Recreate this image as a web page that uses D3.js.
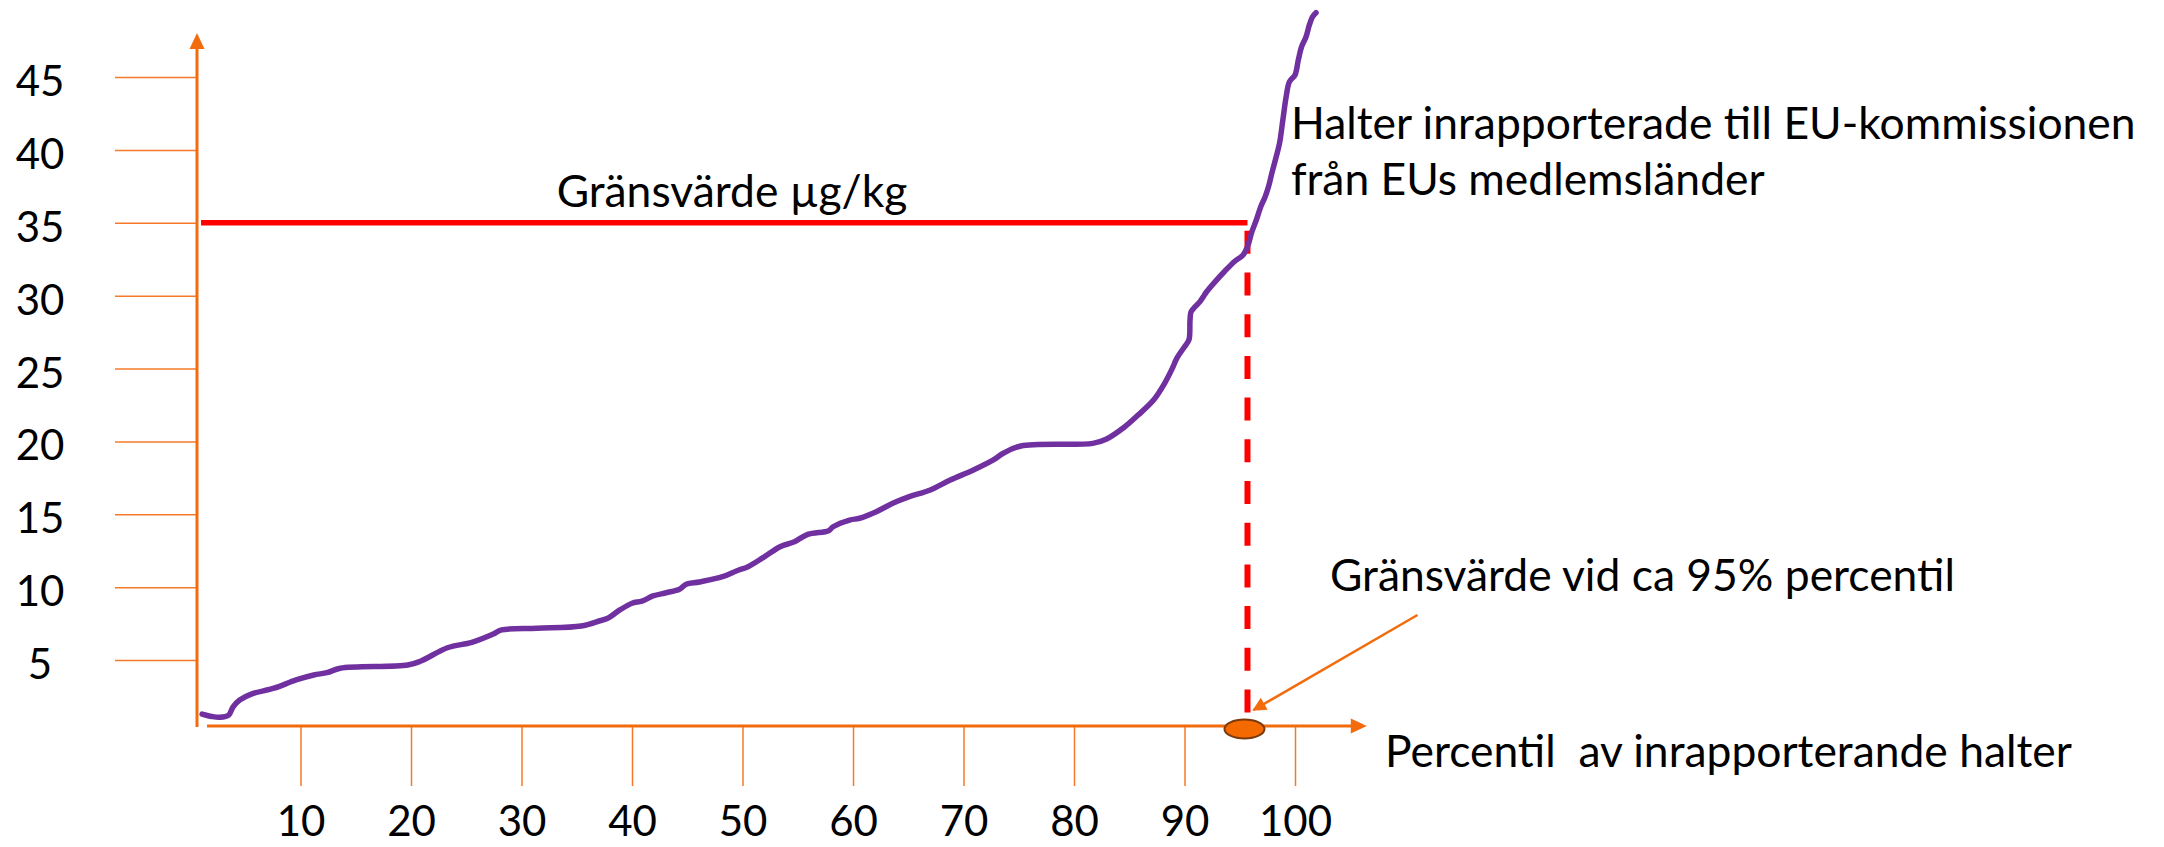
<!DOCTYPE html>
<html>
<head>
<meta charset="utf-8">
<script src="https://cdn.jsdelivr.net/npm/d3@7"></script>
<style>
  body { margin: 0; background: #fff; }
  svg { display: block; }
  .txt { font-family: Lato, "Open Sans", sans-serif; font-size: 44.4px; fill: #000; white-space: pre; }
</style>
</head>
<body>
<div class="chart"></div>
<script>
// Percentile of reported values (x) and concentration in µg/kg (y)
const percentiles = [1.1, 2.0, 2.7, 3.5, 3.9, 4.5, 5.6, 7.6, 9.6, 11.2,
  12.4, 13.6, 19.7, 20.9, 23.3, 25.5, 27.4, 28.2, 31.4, 35.4,
  37.1, 37.8, 38.9, 40.0, 40.9, 41.9, 43.1, 44.3, 44.9, 46.1,
  48.2, 49.5, 50.5, 51.9, 53.4, 54.7, 55.9, 57.8, 58.2, 59.7,
  60.6, 62.1, 63.6, 65.1, 67.0, 68.8, 70.9, 72.7, 73.6, 75.2,
  81.7, 82.9, 84.6, 85.8, 87.2, 88.2, 88.9, 89.3, 90.0, 90.4,
  90.5, 90.6, 91.4, 91.7, 92.0, 92.9, 93.6, 94.5, 95.3, 95.7,
  96.1, 96.5, 96.9, 97.3, 97.6, 97.9, 98.3, 98.6, 98.9, 99.2,
  99.5, 100.0, 100.3, 100.6, 101.0, 101.3, 101.6, 101.9];

const halter = [1.30, 1.13, 1.08, 1.23, 1.80, 2.26, 2.68, 3.07, 3.64, 3.98,
  4.14, 4.44, 4.66, 4.94, 5.85, 6.22, 6.77, 7.07, 7.18, 7.34,
  7.70, 7.87, 8.44, 8.90, 9.05, 9.40, 9.62, 9.86, 10.20, 10.36,
  10.72, 11.13, 11.41, 12.05, 12.78, 13.12, 13.63, 13.88, 14.15, 14.61,
  14.73, 15.18, 15.76, 16.21, 16.67, 17.35, 18.04, 18.73, 19.19, 19.69,
  19.87, 20.15, 21.01, 21.81, 22.84, 23.99, 25.02, 25.70, 26.50, 26.96,
  28.33, 28.90, 29.59, 29.93, 30.27, 31.07, 31.64, 32.33, 32.79, 33.36,
  34.39, 35.19, 36.10, 36.79, 37.47, 38.39, 39.53, 40.45, 42.05, 43.65,
  44.68, 45.14, 46.17, 47.08, 47.76, 48.57, 49.14, 49.41];

const yTicks = [5, 10, 15, 20, 25, 30, 35, 40, 45];
const xTicks = [10, 20, 30, 40, 50, 60, 70, 80, 90, 100];

// limit value and where it is crossed
const limitValue = 35;
const limitPercentile = 95.7;

const labelLimit = "Gränsvärde µg/kg";
const labelSeries = ["Halter inrapporterade till EU-kommissionen", "från EUs medlemsländer"];
const labelPercentile = "Gränsvärde vid ca 95% percentil";
const labelXAxis = "Percentil  av inrapporterande halter";

// sizes and colours
const width = 2164;
const height = 847;
const orange = "#F26C0D";
const tickOrange = "#F47A2A";
const font = "Lato, 'Open Sans', sans-serif";

const svg = d3.select(".chart")
  .append("svg")
    .attr("width", width)
    .attr("height", height);

// scales
const x = d3.scaleLinear()
  .domain([0, 100])
  .range([190, 1295]);

const y = d3.scaleLinear()
  .domain([0, 45])
  .range([733, 77]);

const yAxisX = x(0) + 7;
const xAxisY = y(0) - 7;

// Y axis ticks + labels
svg.append("g")
  .attr("transform", `translate(${yAxisX}, 0)`)
  .call(d3.axisLeft(y).tickValues(yTicks).tickSize(82))
  .attr("font-family", font)
  .attr("font-size", 42)
  .call(g => g.select(".domain").remove())
  .call(g => g.selectAll(".tick line").attr("stroke", tickOrange).attr("stroke-width", 1.5))
  .call(g => g.selectAll(".tick text")
    .attr("x", -157)
    .attr("y", 5)
    .attr("text-anchor", "middle")
    .attr("fill", "#000"));

// X axis ticks + labels
svg.append("g")
  .attr("transform", `translate(0, ${xAxisY})`)
  .call(d3.axisBottom(x).tickValues(xTicks).tickSize(60).tickPadding(20))
  .attr("font-family", font)
  .attr("font-size", 42)
  .call(g => g.select(".domain").remove())
  .call(g => g.selectAll(".tick line").attr("stroke", tickOrange).attr("stroke-width", 1.5))
  .call(g => g.selectAll(".tick text").attr("fill", "#000"));

// axis lines with arrow heads
svg.append("line")
  .attr("x1", yAxisX).attr("x2", yAxisX)
  .attr("y1", xAxisY + 1).attr("y2", 46)
  .attr("stroke", orange)
  .attr("stroke-width", 3);

svg.append("path")
  .attr("d", `M${yAxisX},33 L${yAxisX - 7.5},49 L${yAxisX + 7.5},49 Z`)
  .attr("fill", orange);

const xAxisEnd = x(106.5);
svg.append("line")
  .attr("x1", yAxisX + 10).attr("x2", xAxisEnd - 14)
  .attr("y1", xAxisY).attr("y2", xAxisY)
  .attr("stroke", orange)
  .attr("stroke-width", 3);

svg.append("path")
  .attr("d", `M${xAxisEnd},${xAxisY} L${xAxisEnd - 16},${xAxisY - 7.5} L${xAxisEnd - 16},${xAxisY + 7.5} Z`)
  .attr("fill", orange);

// limit value line
svg.append("line")
  .attr("x1", x(1)).attr("x2", x(limitPercentile))
  .attr("y1", y(limitValue)).attr("y2", y(limitValue))
  .attr("stroke", "#FF0000")
  .attr("stroke-width", 5.5);

// dashed drop line to the x axis
svg.append("line")
  .attr("x1", x(limitPercentile)).attr("x2", x(limitPercentile))
  .attr("y1", y(limitValue)).attr("y2", xAxisY - 8)
  .attr("stroke", "#FF0000")
  .attr("stroke-width", 6)
  .attr("stroke-dasharray", "23,18.7")
  .attr("stroke-dashoffset", -8);

// the curve
const line = d3.line()
  .x(d => x(d[0]))
  .y(d => y(d[1]))
  .curve(d3.curveCatmullRom.alpha(0.5));

svg.append("path")
  .datum(d3.zip(percentiles, halter))
  .attr("d", line)
  .attr("fill", "none")
  .attr("stroke", "#7030A0")
  .attr("stroke-width", 5.5)
  .attr("stroke-linecap", "round")
  .attr("stroke-linejoin", "round");

// marker on the x axis
svg.append("ellipse")
  .attr("cx", x(limitPercentile) - 3)
  .attr("cy", xAxisY + 3)
  .attr("rx", 20)
  .attr("ry", 9.5)
  .attr("fill", "#F46A00")
  .attr("stroke", "#7A3A0E")
  .attr("stroke-width", 2);

// pointer arrow
svg.append("defs")
  .append("marker")
    .attr("id", "head")
    .attr("viewBox", "0 0 10 10")
    .attr("refX", 9)
    .attr("refY", 5)
    .attr("markerWidth", 7)
    .attr("markerHeight", 5.5)
    .attr("orient", "auto")
  .append("path")
    .attr("d", "M0,0 L10,5 L0,10 Z")
    .attr("fill", orange);

svg.append("line")
  .attr("x1", x(limitPercentile) + 170).attr("y1", xAxisY - 111)
  .attr("x2", x(limitPercentile) + 6).attr("y2", xAxisY - 16)
  .attr("stroke", orange)
  .attr("stroke-width", 2.5)
  .attr("marker-end", "url(#head)");

// texts
svg.append("text")
  .attr("class", "txt")
  .attr("x", 732)
  .attr("y", y(limitValue) - 16)
  .attr("text-anchor", "middle")
  .text(labelLimit);

svg.append("text")
  .attr("class", "txt")
  .attr("x", 1291)
  .attr("y", 139)
  .selectAll("tspan")
  .data(labelSeries)
  .join("tspan")
    .attr("x", 1291)
    .attr("dy", (d, i) => i === 0 ? 0 : 56)
    .text(d => d);

svg.append("text")
  .attr("class", "txt")
  .attr("x", 1330)
  .attr("y", 591)
  .text(labelPercentile);

svg.append("text")
  .attr("class", "txt")
  .attr("x", 1385)
  .attr("y", 767)
  .text(labelXAxis);
</script>
</body>
</html>
